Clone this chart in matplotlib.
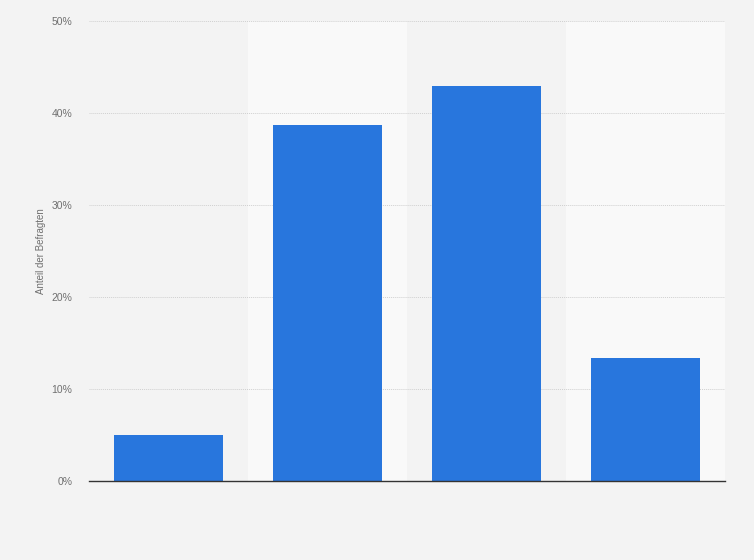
import matplotlib.pyplot as plt
from matplotlib.ticker import FuncFormatter

# survey shares in percent, categories are not labelled in the chart
positions = [0, 1, 2, 3]
shares = [5.0, 38.7, 42.9, 13.4]
y_ticks = [0, 10, 20, 30, 40, 50]

background_color = '#f3f3f3'
band_color = '#f9f9f9'
bar_color = '#2876dd'
text_color = '#707070'
grid_color = '#d0d0d0'

plt.rcParams['font.family'] = ['Liberation Sans', 'DejaVu Sans']


def main():
    fig = plt.figure(figsize=(7.54, 5.6), dpi=100)
    fig.set_facecolor(background_color)
    ax = fig.add_axes([0.118, 0.141, 0.8435, 0.8215])
    ax.set_facecolor(background_color)

    # lighter bands behind every second column
    for p in positions:
        if p % 2 == 1:
            ax.axvspan(p - 0.5, p + 0.5, color=band_color, zorder=0, lw=0)

    ax.bar(positions, shares, width=0.686, color=bar_color, zorder=3)

    ax.set_xlim(-0.5, 3.5)
    ax.set_ylim(0, 50)
    ax.set_yticks(y_ticks)
    ax.yaxis.set_major_formatter(FuncFormatter(lambda v, pos: '%d%%' % v))
    ax.set_xticks([])
    ax.tick_params(axis='y', length=0, pad=12, labelsize=7.5, labelcolor=text_color)
    ax.grid(True, axis='y', color=grid_color, linestyle=(0, (1, 1)), linewidth=0.7, zorder=1)

    for side in ['top', 'right', 'left']:
        ax.spines[side].set_visible(False)
    ax.spines['bottom'].set_color('#333333')
    ax.spines['bottom'].set_linewidth(1.0)
    ax.spines['bottom'].set_zorder(4)

    ax.set_ylabel('Anteil der Befragten', fontsize=7, color=text_color, labelpad=4)

    fig.savefig('out.png', dpi=100, facecolor=background_color)


if __name__ == '__main__':
    main()
